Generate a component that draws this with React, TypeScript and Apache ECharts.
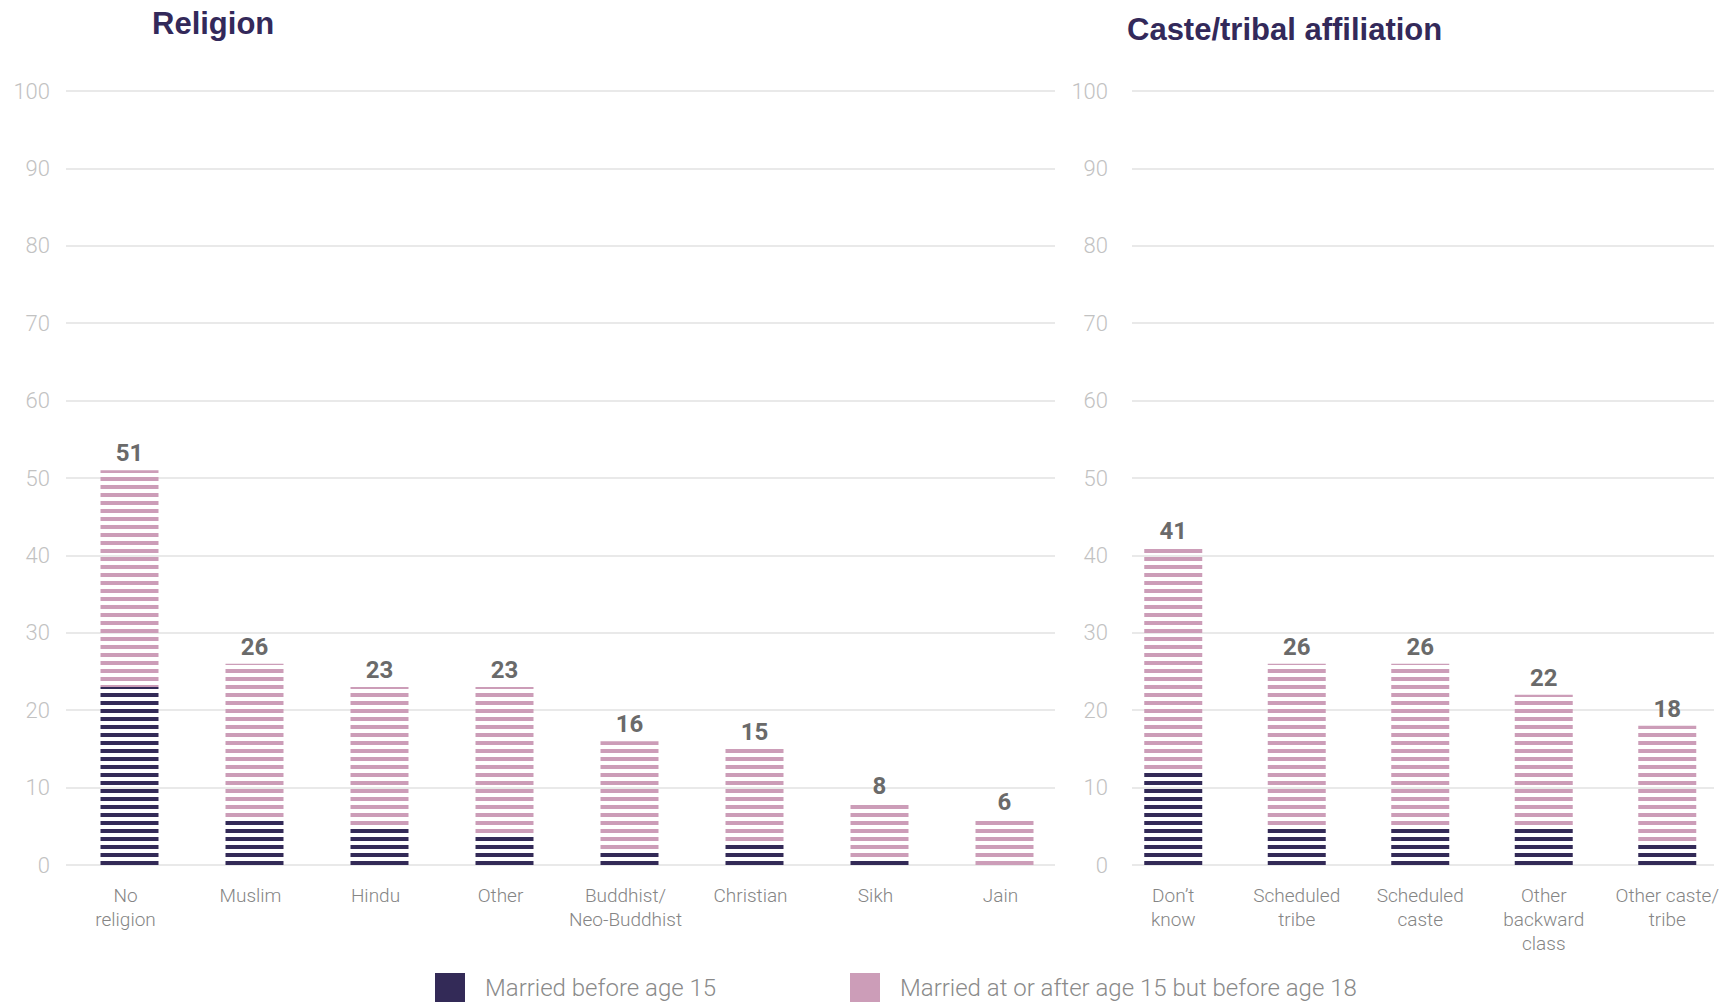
import React, { useEffect, useRef } from "react";
import * as echarts from "echarts";

// ---------- data ----------
const religionCategories = [
  "No\nreligion",
  "Muslim",
  "Hindu",
  "Other",
  "Buddhist/\nNeo-Buddhist",
  "Christian",
  "Sikh",
  "Jain",
];
const religionBefore15 = [23, 6, 5, 4, 2, 3, 1, 0];
const religion15to18 = [28, 20, 18, 19, 14, 12, 7, 6];
const religionTotals = [51, 26, 23, 23, 16, 15, 8, 6];

const casteCategories = [
  "Don\u2019t\nknow",
  "Scheduled\ntribe",
  "Scheduled\ncaste",
  "Other\nbackward\nclass",
  "Other caste/\ntribe",
];
const casteBefore15 = [12, 5, 5, 5, 3];
const caste15to18 = [29, 21, 21, 17, 15];
const casteTotals = [41, 26, 26, 22, 18];

const yMin = 0;
const yMax = 100;
const yInterval = 10;

const panelTitles = ["Religion", "Caste/tribal affiliation"];
const seriesNames = ["Married before age 15", "Married at or after age 15 but before age 18"];

// ---------- styles ----------
const DARK = "#332a57";
const PINK = "#cc9db8";
const TITLE = "#33295a";
const FONT = "Roboto, 'Liberation Sans', sans-serif";

function stripes(color: string) {
  const c = document.createElement("canvas");
  c.width = 8;
  c.height = 8;
  const ctx = c.getContext("2d")!;
  ctx.fillStyle = color;
  ctx.fillRect(0, 5, 8, 3);
  ctx.fillRect(0, 0, 8, 1);
  return { image: c, repeat: "repeat" as const };
}

export default function App() {
  const ref = useRef<HTMLDivElement>(null);

  useEffect(() => {
    if (!ref.current) return;
    const chart = echarts.init(ref.current, undefined, { renderer: "svg" });

    const top = 91;
    const height = 774;

    const displayY = (margin: number, gridIndex: number) => ({
      gridIndex,
      type: "value",
      min: yMin,
      max: yMax,
      interval: yInterval,
      axisLine: { show: false },
      axisTick: { show: false },
      axisLabel: {
        margin,
        color: "#c2c2c2",
        fontSize: 22,
        fontWeight: 300,
        fontFamily: FONT,
      },
      splitLine: { lineStyle: { color: "#e2e2e2", width: 1.6 } },
    });
    const hiddenY = (gridIndex: number) => ({
      gridIndex,
      type: "value",
      min: yMin,
      max: yMax,
      show: false,
    });
    const catX = (gridIndex: number, data: string[], padRight: number) => ({
      gridIndex,
      type: "category",
      data,
      axisLine: { show: false },
      axisTick: { show: false },
      axisLabel: {
        margin: 18,
        color: "#858585",
        fontSize: 19,
        fontWeight: 300,
        lineHeight: 24,
        fontFamily: FONT,
        interval: 0,
        padding: [0, padRight, 0, 0],
      },
    });

    const barSeries = (
      axisIndex: number,
      stack: string,
      before: number[],
      after: number[],
      totals: number[]
    ) => [
      {
        name: seriesNames[0],
        type: "bar",
        xAxisIndex: axisIndex,
        yAxisIndex: axisIndex,
        stack,
        barWidth: 58,
        data: before,
        itemStyle: { color: stripes(DARK) },
        emphasis: { disabled: true },
      },
      {
        name: seriesNames[1],
        type: "bar",
        xAxisIndex: axisIndex,
        yAxisIndex: axisIndex,
        stack,
        barWidth: 58,
        data: after,
        itemStyle: { color: stripes(PINK) },
        emphasis: { disabled: true },
        label: {
          show: true,
          position: "top",
          distance: 5,
          formatter: (p: any) => String(totals[p.dataIndex]),
          color: "#6a6a6a",
          fontSize: 24,
          fontWeight: "bold",
          fontFamily: FONT,
        },
      },
    ];

    const legendCommon = {
      icon: "rect",
      itemWidth: 30,
      itemHeight: 30,
      top: 968,
      selectedMode: false,
      textStyle: {
        fontSize: 24,
        lineHeight: 24,
        fontWeight: 300,
        color: "#8a8a8a",
        fontFamily: FONT,
        padding: [0, 0, 0, 15],
      },
    };

    const titleStyle = {
      color: TITLE,
      fontSize: 31,
      fontWeight: "bold",
      fontFamily: "'Liberation Sans', Arial, sans-serif",
    };

    chart.setOption({
      animation: false,
      backgroundColor: "#ffffff",
      title: [
        { text: panelTitles[0], left: 147, top: 3, textStyle: titleStyle },
        { text: panelTitles[1], left: 1122, top: 9, textStyle: titleStyle },
      ],
      legend: [
        {
          ...legendCommon,
          left: 430,
          data: [{ name: seriesNames[0], itemStyle: { color: DARK } }],
        },
        {
          ...legendCommon,
          left: 845,
          data: [{ name: seriesNames[1], itemStyle: { color: PINK } }],
        },
      ],
      grid: [
        { left: 66, width: 989, top, height },
        { left: 67, width: 1000, top, height },
        { left: 1132, width: 582, top, height },
        { left: 1111.5, width: 620, top, height },
      ],
      xAxis: [
        { gridIndex: 0, type: "value", show: false },
        catX(1, religionCategories, 8),
        { gridIndex: 2, type: "value", show: false },
        catX(3, casteCategories, 0),
      ],
      yAxis: [displayY(16, 0), hiddenY(1), displayY(24, 2), hiddenY(3)],
      series: [
        ...barSeries(1, "religion", religionBefore15, religion15to18, religionTotals),
        ...barSeries(3, "caste", casteBefore15, caste15to18, casteTotals),
      ],
    });

    return () => chart.dispose();
  }, []);

  return (
    <div
      ref={ref}
      style={{
        position: "absolute",
        left: 0,
        top: 0,
        width: 1729,
        height: 1002,
        background: "#fff",
      }}
    />
  );
}
